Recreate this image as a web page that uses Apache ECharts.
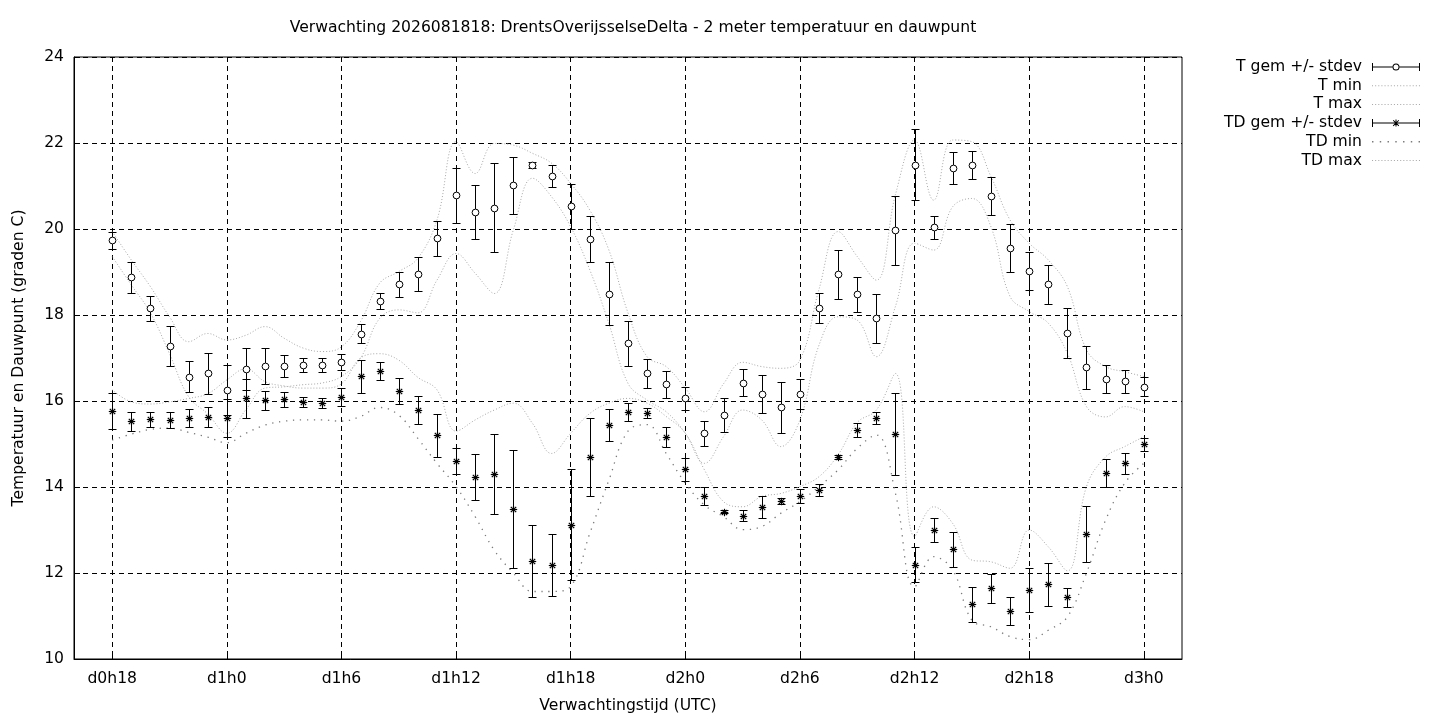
<!DOCTYPE html>
<html lang="nl">
<head>
    <meta charset="UTF-8">
    <title>Verwachting 2026081818</title>
    <style>
        html, body { margin: 0; padding: 0; background: #fff; }
    </style>
</head>
<body>
<div id="main" style="width:1440px;height:720px;"></div>
<script src="https://cdn.jsdelivr.net/npm/echarts@6/dist/echarts.min.js"></script>
<script>
    // x-as: uren vanaf d0h0
    var axisHours = [16, 17, 18, 19, 20, 21, 22, 23, 24, 25, 26, 27, 28, 29, 30, 31, 32, 33, 34, 35,
        36, 37, 38, 39, 40, 41, 42, 43, 44, 45, 46, 47, 48, 49, 50, 51, 52, 53, 54, 55,
        56, 57, 58, 59, 60, 61, 62, 63, 64, 65, 66, 67, 68, 69, 70, 71, 72, 73, 74];
    var tickHours = [18, 24, 30, 36, 42, 48, 54, 60, 66, 72];
    var tickLabels = ['d0h18', 'd1h0', 'd1h6', 'd1h12', 'd1h18', 'd2h0', 'd2h6', 'd2h12', 'd2h18', 'd3h0'];

    var hours = [18, 19, 20, 21, 22, 23, 24, 25, 26, 27, 28, 29, 30, 31, 32, 33, 34, 35, 36, 37,
        38, 39, 40, 41, 42, 43, 44, 45, 46, 47, 48, 49, 50, 51, 52, 53, 54, 55, 56, 57,
        58, 59, 60, 61, 62, 63, 64, 65, 66, 67, 68, 69, 70, 71, 72];

    var tMean = [19.74, 18.88, 18.16, 17.28, 16.56, 16.64, 16.25, 16.74, 16.81, 16.81,
        16.84, 16.84, 16.91, 17.56, 18.33, 18.71, 18.95, 19.78, 20.78, 20.39,
        20.50, 21.02, 21.49, 21.23, 20.53, 19.77, 18.50, 17.34, 16.64, 16.39,
        16.06, 15.25, 15.67, 16.43, 16.16, 15.85, 16.16, 18.16, 18.95, 18.48,
        17.92, 19.97, 21.50, 20.04, 21.41, 21.49, 20.76, 19.56, 19.02, 18.71,
        17.58, 16.78, 16.51, 16.46, 16.33];
    var tStd = [0.20, 0.36, 0.29, 0.46, 0.36, 0.47, 0.58, 0.49, 0.42, 0.25,
        0.16, 0.17, 0.19, 0.22, 0.19, 0.30, 0.40, 0.41, 0.64, 0.63,
        1.04, 0.66, 0.06, 0.26, 0.52, 0.53, 0.73, 0.52, 0.33, 0.31,
        0.26, 0.29, 0.40, 0.31, 0.44, 0.59, 0.35, 0.35, 0.57, 0.41,
        0.56, 0.80, 0.83, 0.27, 0.37, 0.33, 0.44, 0.56, 0.44, 0.45,
        0.58, 0.49, 0.33, 0.27, 0.22];
    var tMin = [19.36, 18.70, 18.05, 17.10, 16.10, 15.70, 15.25, 15.80, 16.30, 16.33,
        16.38, 16.42, 16.57, 17.00, 17.92, 18.12, 18.05, 18.81, 19.43, 18.97,
        18.50, 19.98, 21.18, 20.75, 20.05, 19.05, 17.80, 16.41, 16.02, 15.75,
        15.25, 14.55, 15.17, 15.79, 15.56, 14.94, 15.56, 17.30, 17.96, 17.88,
        17.03, 18.20, 19.67, 19.51, 20.52, 20.71, 20.05, 18.43, 18.08, 17.81,
        17.11, 15.87, 15.63, 15.87, 15.75];
    var tMax = [19.94, 19.28, 18.66, 17.96, 17.38, 17.57, 17.42, 17.53, 17.73, 17.46,
        17.23, 17.15, 17.26, 17.85, 18.74, 19.01, 19.32, 20.21, 22.03, 21.29,
        21.99, 21.95, 21.76, 21.53, 21.06, 20.44, 19.51, 18.05, 17.03, 16.80,
        16.30, 15.75, 16.40, 16.90, 16.80, 16.76, 16.95, 18.60, 19.94, 19.36,
        18.81, 20.80, 22.07, 20.67, 22.07, 22.03, 21.22, 20.21, 19.67, 19.28,
        18.66, 17.19, 16.80, 16.68, 16.57];

    var tdMean = [15.77, 15.53, 15.57, 15.56, 15.60, 15.62, 15.61, 16.06, 16.02, 16.04,
        15.98, 15.96, 16.09, 16.57, 16.70, 16.23, 15.79, 15.20, 14.60, 14.23,
        14.30, 13.48, 12.28, 12.18, 13.12, 14.70, 15.44, 15.74, 15.72, 15.16,
        14.41, 13.79, 13.43, 13.33, 13.53, 13.67, 13.79, 13.93, 14.70, 15.33,
        15.60, 15.23, 12.19, 13.00, 12.55, 11.27, 11.64, 11.12, 11.60, 11.74,
        11.44, 12.91, 14.32, 14.55, 14.99];
    var tdStd = [0.41, 0.22, 0.17, 0.19, 0.21, 0.23, 0.44, 0.46, 0.22, 0.18,
        0.12, 0.12, 0.21, 0.38, 0.20, 0.30, 0.32, 0.50, 0.30, 0.53,
        0.93, 1.37, 0.84, 0.72, 1.29, 0.90, 0.37, 0.21, 0.12, 0.24,
        0.26, 0.22, 0.04, 0.13, 0.25, 0.07, 0.16, 0.13, 0.05, 0.16,
        0.14, 0.95, 0.41, 0.28, 0.40, 0.40, 0.33, 0.33, 0.51, 0.50,
        0.22, 0.65, 0.33, 0.25, 0.16];
    var tdMin = [15.09, 15.23, 15.34, 15.37, 15.27, 15.16, 15.03, 15.25, 15.44, 15.53,
        15.56, 15.56, 15.53, 15.64, 15.85, 15.67, 15.13, 14.55, 14.01, 13.31,
        12.53, 12.00, 11.57, 11.57, 11.69, 12.92, 14.16, 15.30, 15.45, 14.78,
        14.09, 13.58, 13.31, 13.01, 13.08, 13.39, 13.66, 14.01, 14.40, 14.90,
        15.21, 13.85, 11.68, 12.38, 12.07, 10.90, 10.75, 10.52, 10.45, 10.67,
        10.98, 12.00, 13.23, 14.09, 14.55];
    var tdMax = [16.26, 15.98, 15.93, 15.98, 16.06, 16.17, 16.49, 16.75, 16.45, 16.35,
        16.30, 16.30, 16.40, 17.00, 17.10, 16.95, 16.55, 16.26, 15.30, 15.56,
        15.79, 15.95, 15.48, 14.78, 15.25, 15.71, 15.95, 16.06, 15.95, 15.64,
        15.25, 14.40, 13.66, 13.54, 13.78, 13.85, 14.01, 14.24, 14.75, 15.50,
        15.79, 16.64, 12.85, 13.54, 13.15, 12.30, 12.26, 12.11, 13.00, 12.61,
        12.05, 14.01, 14.70, 14.94, 15.17];

    var FONT = 'DejaVu Sans';
    var FS = 15.6;
    var LIGHT = '#a9a9a9';
    var DARK = '#7a7a7a';

    function hourLabel(h) {
        var i = tickHours.indexOf(Number(h));
        return i >= 0 ? tickLabels[i] : '';
    }

    function isTick(index, value) {
        return tickHours.indexOf(Number(value)) >= 0;
    }

    function pairs(values) {
        return hours.map(function (h, i) {
            return [String(h), values[i]];
        });
    }

    function triples(mean, std) {
        return hours.map(function (h, i) {
            return [String(h), mean[i], std[i]];
        });
    }

    // scherpe 1px lijnen
    function crisp(v) {
        return Math.round(v) + 0.5;
    }

    // foutbalk met marker (cirkel of asterisk)
    function errorBar(marker) {
        return function (params, api) {
            var x = api.value(0);
            var m = api.value(1);
            var s = api.value(2);
            var top = api.coord([x, m + s]);
            var bot = api.coord([x, m - s]);
            var c = api.coord([x, m]);
            var px = crisp(c[0]);
            var yt = crisp(top[1]);
            var yb = crisp(bot[1]);
            var cap = 4;
            var st = {stroke: '#000', lineWidth: 1, fill: null};
            var kids = [
                {type: 'line', shape: {x1: px, y1: yt, x2: px, y2: yb}, style: st},
                {type: 'line', shape: {x1: px - cap, y1: yt, x2: px + cap, y2: yt}, style: st},
                {type: 'line', shape: {x1: px - cap, y1: yb, x2: px + cap, y2: yb}, style: st}
            ];
            var cy = Math.round(c[1]) + 0.5;
            if (marker === 'circle') {
                kids.push({type: 'circle', shape: {cx: px, cy: cy, r: 3.4},
                    style: {fill: '#fff', stroke: '#000', lineWidth: 1}});
            } else {
                var a = 3.7, d = 2.7;
                var sst = {stroke: '#000', lineWidth: 1.2, fill: null};
                kids.push({type: 'line', shape: {x1: px - a, y1: cy, x2: px + a, y2: cy}, style: sst});
                kids.push({type: 'line', shape: {x1: px, y1: cy - a, x2: px, y2: cy + a}, style: sst});
                kids.push({type: 'line', shape: {x1: px - d, y1: cy - d, x2: px + d, y2: cy + d}, style: sst});
                kids.push({type: 'line', shape: {x1: px - d, y1: cy + d, x2: px + d, y2: cy - d}, style: sst});
            }
            return {type: 'group', children: kids};
        };
    }

    // legenda-iconen
    var ringIcon = 'path://M0,0h1v8h-1z M47,0h1v8h-1z M0,3.5h20.5v1h-20.5z M27.5,3.5h20.5v1h-20.5z ' +
        'M20.5,4 A3.5,3.5 0 1 0 27.5,4 A3.5,3.5 0 1 0 20.5,4 Z M21.5,4 A2.5,2.5 0 1 1 26.5,4 A2.5,2.5 0 1 1 21.5,4 Z';
    var starIcon = 'path://M0,0h1v8h-1z M47,0h1v8h-1z M0,3.5h48v1h-48z M23.5,0.5h1v7h-1z ' +
        'M20.8,1.5 L21.5,0.8 L27.2,6.5 L26.5,7.2 Z M26.5,0.8 L27.2,1.5 L21.5,7.2 L20.8,6.5 Z';

    function dotIcon(step, size) {
        var p = 'path://';
        for (var x = 0; x + size <= 48; x += step) {
            p += 'M' + x + ',' + (4 - size / 2) + 'h' + size + 'v' + size + 'h-' + size + 'z ';
        }
        return p;
    }

    var fineDots = dotIcon(3, 1);
    var sparseDots = dotIcon(7, 1.3);

    var chart = echarts.init(document.getElementById('main'), null, {renderer: 'canvas'});

    var option = {
        animation: false,
        backgroundColor: '#fff',
        textStyle: {fontFamily: FONT, color: '#000'},
        title: {
            text: 'Verwachting 2026081818: DrentsOverijsselseDelta - 2 meter temperatuur en dauwpunt',
            left: 628,
            textAlign: 'center',
            top: 15,
            textStyle: {fontFamily: FONT, fontSize: FS, fontWeight: 'normal', color: '#000'}
        },
        legend: {
            orient: 'vertical',
            right: 20,
            top: 59,
            padding: 0,
            align: 'right',
            itemWidth: 48,
            itemHeight: 8,
            itemGap: 2.7,
            selectedMode: false,
            textStyle: {fontFamily: FONT, fontSize: FS, color: '#000', lineHeight: 16, padding: [0, 5, 0, 0]},
            data: [
                {name: 'T gem +/- stdev', icon: ringIcon, itemStyle: {color: '#000', borderWidth: 0}},
                {name: 'T min', icon: fineDots, itemStyle: {color: LIGHT, borderWidth: 0}},
                {name: 'T max', icon: fineDots, itemStyle: {color: LIGHT, borderWidth: 0}},
                {name: 'TD gem +/- stdev', icon: starIcon, itemStyle: {color: '#000', borderWidth: 0}},
                {name: 'TD min', icon: sparseDots, itemStyle: {color: DARK, borderWidth: 0}},
                {name: 'TD max', icon: fineDots, itemStyle: {color: LIGHT, borderWidth: 0}}
            ]
        },
        grid: {
            left: 74,
            right: 258,
            top: 57,
            bottom: 61,
            show: true,
            borderColor: '#000',
            borderWidth: 1,
            backgroundColor: 'transparent'
        },
        xAxis: {
            type: 'category',
            data: axisHours.map(String),
            boundaryGap: false,
            name: 'Verwachtingstijd (UTC)',
            nameLocation: 'middle',
            nameGap: 39,
            nameTextStyle: {fontFamily: FONT, fontSize: FS, color: '#000'},
            axisLine: {show: true, lineStyle: {color: '#000', width: 1}},
            axisTick: {show: true, inside: true, length: 6, interval: isTick, lineStyle: {color: '#000'}},
            axisLabel: {
                interval: isTick,
                formatter: hourLabel,
                margin: 12,
                fontFamily: FONT,
                fontSize: FS,
                color: '#000'
            },
            splitLine: {show: true, interval: isTick, lineStyle: {color: '#000', type: [5, 4], width: 1}}
        },
        yAxis: {
            type: 'value',
            min: 10,
            max: 24,
            interval: 2,
            name: 'Temperatuur en Dauwpunt (graden C)',
            nameLocation: 'middle',
            nameGap: 47,
            nameTextStyle: {fontFamily: FONT, fontSize: FS, color: '#000'},
            axisLine: {show: true, lineStyle: {color: '#000', width: 1}},
            axisTick: {show: true, inside: true, length: 6, lineStyle: {color: '#000'}},
            axisLabel: {margin: 10, fontFamily: FONT, fontSize: FS, color: '#000'},
            splitLine: {show: true, lineStyle: {color: '#000', type: [5, 4], width: 1}}
        },
        series: [
            {
                name: 'T gem +/- stdev',
                type: 'custom',
                renderItem: errorBar('circle'),
                itemStyle: {color: '#000'},
                data: triples(tMean, tStd),
                z: 5
            },
            {
                name: 'T min',
                type: 'line',
                data: pairs(tMin),
                symbol: 'none',
                smooth: 0.4,
                color: LIGHT,
                lineStyle: {color: LIGHT, width: 1, type: [1, 2]},
                z: 3
            },
            {
                name: 'T max',
                type: 'line',
                data: pairs(tMax),
                symbol: 'none',
                smooth: 0.4,
                color: LIGHT,
                lineStyle: {color: LIGHT, width: 1, type: [1, 2]},
                z: 3
            },
            {
                name: 'TD gem +/- stdev',
                type: 'custom',
                renderItem: errorBar('star'),
                itemStyle: {color: '#000'},
                data: triples(tdMean, tdStd),
                z: 5
            },
            {
                name: 'TD min',
                type: 'line',
                data: pairs(tdMin),
                symbol: 'none',
                smooth: 0.4,
                color: DARK,
                lineStyle: {color: DARK, width: 1.3, type: [1.3, 5.7]},
                z: 3
            },
            {
                name: 'TD max',
                type: 'line',
                data: pairs(tdMax),
                symbol: 'none',
                smooth: 0.4,
                color: LIGHT,
                lineStyle: {color: LIGHT, width: 1, type: [1, 2]},
                z: 3
            }
        ]
    };

    chart.setOption(option);
</script>
</body>
</html>
